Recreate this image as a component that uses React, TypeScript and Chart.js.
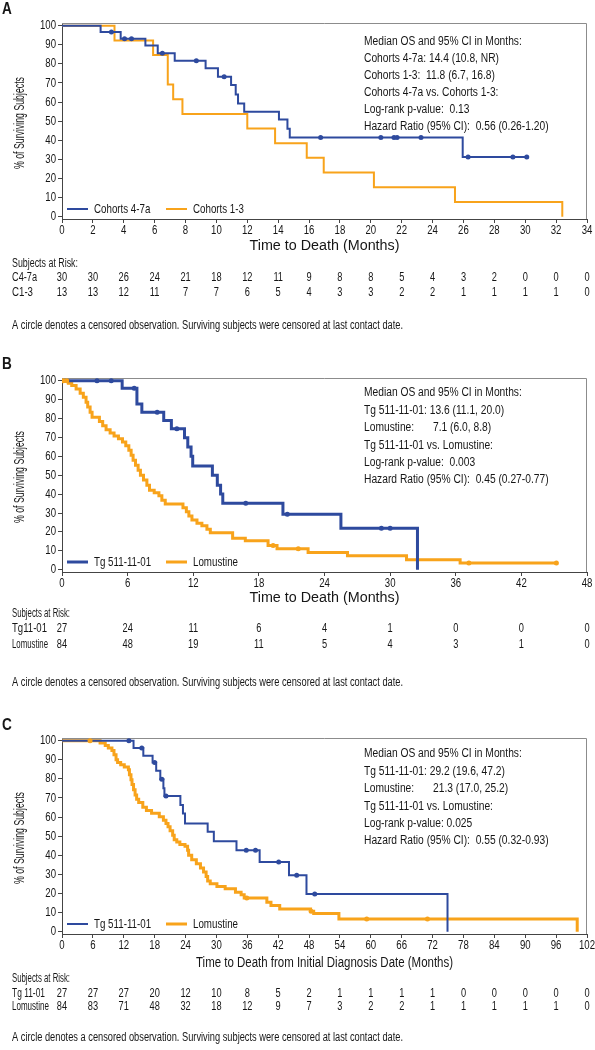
import React, { useEffect, useRef } from "react";
import { Chart, registerables } from "chart.js";

Chart.register(...registerables);

const FONT = "'Liberation Sans Narrow', 'Liberation Sans', Arial, sans-serif";
const BLUE = "#2e4a9e";
const ORANGE = "#f8a31b";
const INK = "#161616";

const Y_TICKS = [0, 10, 20, 30, 40, 50, 60, 70, 80, 90, 100];

// ---------------- Panel A data ----------------
const A_X_TICKS = [0, 2, 4, 6, 8, 10, 12, 14, 16, 18, 20, 22, 24, 26, 28, 30, 32, 34];
const A_C47_TIME = [0, 2.5, 3.8, 5.4, 6.2, 7.3, 9.3, 10.1, 10.95, 11.25, 11.4, 11.8, 14.05, 14.6, 14.75, 25.95, 30.1];
const A_C47_SURV = [100, 96.7, 93.1, 89.6, 85.6, 81.7, 77.7, 73.3, 68.9, 64.0, 59.3, 54.9, 50.9, 46.1, 41.4, 31.2, 31.2];
const A_C47_CENSOR = [3.2, 4.05, 4.5, 6.5, 8.7, 10.5, 16.75, 20.65, 21.5, 21.7, 23.25, 26.3, 29.2, 30.1];
const A_C13_TIME = [0, 3.4, 5.9, 6.85, 7.2, 7.8, 12.0, 13.8, 15.85, 16.95, 20.2, 25.45, 32.4];
const A_C13_SURV = [100, 92.3, 84.6, 69.2, 61.5, 53.8, 46.2, 38.5, 30.8, 23.1, 15.4, 7.7, 0];
const A_C13_CENSOR: number[] = [];
const A_RISK_C47 = [30, 30, 26, 24, 21, 18, 12, 11, 9, 8, 8, 5, 4, 3, 2, 0, 0, 0];
const A_RISK_C13 = [13, 13, 12, 11, 7, 7, 6, 5, 4, 3, 3, 2, 2, 1, 1, 1, 1, 0];
const A_STATS: [string, string][] = [
  ["Median OS and 95% CI in Months:", ""],
  ["Cohorts 4-7a: 14.4 (10.8, NR)", ""],
  ["Cohorts 1-3:  11.8 (6.7, 16.8)", ""],
  ["Cohorts 4-7a vs. Cohorts 1-3:", ""],
  ["Log-rank p-value:  0.13", ""],
  ["Hazard Ratio (95% CI):  0.56 (0.26-1.20)", ""],
];

// ---------------- Panel B data ----------------
const B_X_TICKS = [0, 6, 12, 18, 24, 30, 36, 42, 48];
const B_TG_TIME = [0, 5.5, 6.85, 7.3, 9.3, 10.0, 11.2, 11.5, 11.8, 11.95, 13.75, 14.2, 14.5, 14.7, 20.2, 25.5, 32.5];
const B_TG_SURV = [100, 96.0, 87.7, 83.3, 78.9, 74.6, 69.8, 64.9, 60.0, 54.9, 50.0, 44.7, 40.0, 35.1, 29.3, 22.0, 0];
const B_TG_CENSOR = [3.2, 4.5, 6.6, 8.7, 10.5, 16.8, 20.6, 29.2, 30.0];
const B_LOM_TIME = [0, 0.58, 0.89, 1.29, 1.66, 1.95, 2.2, 2.35, 2.57, 2.75, 3.42, 3.72, 4.03, 4.4, 4.76, 5.16, 5.53, 5.83, 6.11, 6.32, 6.5, 6.72, 6.96, 7.17, 7.45, 7.76, 8.0, 8.43, 8.86, 9.13, 9.44, 11.06, 11.37, 11.6, 11.88, 12.34, 12.79, 13.25, 13.56, 15.6, 16.76, 18.84, 19.66, 22.5, 26.1, 31.5, 36.4, 45.2];
const B_LOM_SURV = [100, 98.6, 97.4, 95.6, 93.3, 91.2, 88.6, 86.0, 83.3, 80.7, 78.4, 76.1, 74.0, 72.3, 70.7, 69.3, 67.5, 65.6, 63.2, 60.5, 57.9, 55.3, 52.6, 50.0, 47.4, 44.7, 42.1, 40.7, 39.1, 36.8, 34.7, 32.8, 30.7, 28.4, 26.3, 24.6, 23.2, 21.4, 19.6, 16.7, 15.3, 12.8, 11.1, 9.1, 7.4, 5.3, 3.5, 3.5];
const B_LOM_CENSOR = [0.12, 0.43, 19.3, 21.6, 37.2, 45.2];
const B_RISK_TG = [27, 24, 11, 6, 4, 1, 0, 0, 0];
const B_RISK_LOM = [84, 48, 19, 11, 5, 4, 3, 1, 0];
const B_STATS: [string, string][] = [
  ["Median OS and 95% CI in Months:", ""],
  ["Tg 511-11-01: 13.6 (11.1, 20.0)", ""],
  ["Lomustine:", "7.1 (6.0, 8.8)"],
  ["Tg 511-11-01 vs. Lomustine:", ""],
  ["Log-rank p-value:  0.003", ""],
  ["Hazard Ratio (95% CI):  0.45 (0.27-0.77)", ""],
];

// ---------------- Panel C data ----------------
const C_X_TICKS = [0, 6, 12, 18, 24, 30, 36, 42, 48, 54, 60, 66, 72, 78, 84, 90, 96, 102];
const C_TG_TIME = [0, 13.9, 15.8, 17.6, 18.3, 19.1, 19.7, 19.9, 23.0, 23.5, 23.9, 28.3, 29.5, 33.9, 38.4, 44.1, 47.5, 74.9];
const C_TG_SURV = [100, 96.1, 92.1, 88.6, 84.2, 79.8, 75.1, 71.1, 66.3, 61.9, 56.7, 52.3, 47.4, 42.6, 36.5, 29.5, 19.8, 0];
const C_TG_CENSOR = [13.0, 15.5, 18.0, 19.4, 20.2, 35.8, 37.6, 42.1, 45.6, 49.1];
const C_LOM_TIME = [0, 7.4, 8.4, 9.0, 9.7, 10.1, 10.5, 10.8, 11.4, 12.1, 12.9, 13.1, 13.4, 13.6, 13.9, 14.2, 14.5, 14.9, 15.7, 16.4, 17.4, 18.9, 19.7, 20.2, 20.6, 21.0, 21.5, 21.8, 22.3, 22.9, 23.9, 24.4, 24.6, 25.2, 26.1, 26.9, 27.5, 28.0, 28.3, 28.8, 30.1, 31.7, 33.7, 34.8, 35.4, 39.8, 40.6, 42.3, 48.3, 48.9, 53.8, 100.1];
const C_LOM_SURV = [100, 98.8, 97.5, 96.1, 94.9, 92.6, 90.0, 88.6, 87.4, 86.2, 84.8, 82.2, 79.6, 77.0, 74.3, 71.6, 69.4, 67.6, 65.1, 63.4, 62.0, 60.2, 58.4, 56.7, 54.9, 52.8, 50.5, 48.2, 47.0, 45.7, 44.7, 42.6, 40.0, 37.7, 35.6, 33.3, 31.2, 28.9, 26.5, 25.1, 23.7, 22.5, 20.7, 19.3, 17.7, 15.4, 13.7, 11.9, 10.7, 9.5, 6.7, 0];
const C_LOM_CENSOR = [5.45, 35.9, 48.4, 59.2, 71.0];
const C_RISK_TG = [27, 27, 27, 20, 12, 10, 8, 5, 2, 1, 1, 1, 1, 0, 0, 0, 0, 0];
const C_RISK_LOM = [84, 83, 71, 48, 32, 18, 12, 9, 7, 3, 2, 2, 1, 1, 1, 1, 1, 0];
const C_STATS: [string, string][] = [
  ["Median OS and 95% CI in Months:", ""],
  ["Tg 511-11-01: 29.2 (19.6, 47.2)", ""],
  ["Lomustine:", "21.3 (17.0, 25.2)"],
  ["Tg 511-11-01 vs. Lomustine:", ""],
  ["Log-rank p-value: 0.025", ""],
  ["Hazard Ratio (95% CI):  0.55 (0.32-0.93)", ""],
];

const FOOTNOTE = "A circle denotes a censored observation. Surviving subjects were censored at last contact date.";
const Y_TITLE = "% of Surviving Subjects";

interface Series {
  label: string;
  riskLabel: string;
  riskLabelW: number;
  color: string;
  width: number;
  time: number[];
  surv: number[];
  censor: number[];
  risk: number[];
}

interface PanelCfg {
  letter: string;
  canvasH: number;
  top: number;
  bottom: number;
  xMax: number;
  xStep: number;
  ticks: number[];
  xTitle: string;
  xTitleW: number;
  titleY: number;
  letterY: number;
  statsY: number;
  statsGap: number;
  stats: [string, string][];
  riskY: number[];
  subjW: number;
  footY: number;
  series: Series[];
}

const PANEL_A: PanelCfg = {
  letter: "A", canvasH: 340, top: 23, bottom: 219, xMax: 34, xStep: 2, ticks: A_X_TICKS,
  xTitle: "Time to Death (Months)", xTitleW: 150, titleY: 246, letterY: 10, statsY: 42, statsGap: 17,
  stats: A_STATS, riskY: [264, 278, 293], subjW: 66, footY: 326,
  series: [
    { label: "Cohorts 4-7a", riskLabel: "C4-7a", riskLabelW: 25, color: BLUE, width: 2, time: A_C47_TIME, surv: A_C47_SURV, censor: A_C47_CENSOR, risk: A_RISK_C47 },
    { label: "Cohorts 1-3", riskLabel: "C1-3", riskLabelW: 21, color: ORANGE, width: 2, time: A_C13_TIME, surv: A_C13_SURV, censor: A_C13_CENSOR, risk: A_RISK_C13 },
  ],
};

const PANEL_B: PanelCfg = {
  letter: "B", canvasH: 360, top: 38, bottom: 232, xMax: 48, xStep: 6, ticks: B_X_TICKS,
  xTitle: "Time to Death (Months)", xTitleW: 150, titleY: 258, letterY: 25, statsY: 53, statsGap: 17.4,
  stats: B_STATS, riskY: [274, 289, 305], subjW: 58, footY: 343,
  series: [
    { label: "Tg 511-11-01", riskLabel: "Tg11-01", riskLabelW: 35, color: BLUE, width: 3, time: B_TG_TIME, surv: B_TG_SURV, censor: B_TG_CENSOR, risk: B_RISK_TG },
    { label: "Lomustine", riskLabel: "Lomustine", riskLabelW: 36, color: ORANGE, width: 3, time: B_LOM_TIME, surv: B_LOM_SURV, censor: B_LOM_CENSOR, risk: B_RISK_LOM },
  ],
};

const PANEL_C: PanelCfg = {
  letter: "C", canvasH: 350, top: 38, bottom: 234, xMax: 102, xStep: 6, ticks: C_X_TICKS,
  xTitle: "Time to Death from Initial Diagnosis Date (Months)", xTitleW: 257, titleY: 263, letterY: 26, statsY: 54, statsGap: 17.4,
  stats: C_STATS, riskY: [279, 294, 307], subjW: 58, footY: 338,
  series: [
    { label: "Tg 511-11-01", riskLabel: "Tg 11-01", riskLabelW: 33, color: BLUE, width: 2, time: C_TG_TIME, surv: C_TG_SURV, censor: C_TG_CENSOR, risk: C_RISK_TG },
    { label: "Lomustine", riskLabel: "Lomustine", riskLabelW: 37, color: ORANGE, width: 3, time: C_LOM_TIME, surv: C_LOM_SURV, censor: C_LOM_CENSOR, risk: C_RISK_LOM },
  ],
};

function survAt(times: number[], surv: number[], t: number): number {
  let s = surv[0];
  for (let i = 0; i < times.length; i++) {
    if (times[i] <= t) s = surv[i];
    else break;
  }
  return s;
}

interface TxtOpts {
  align?: CanvasTextAlign;
  bold?: boolean;
  sx?: number;
  width?: number;
  rotate?: number;
}

function txt(ctx: CanvasRenderingContext2D, s: string, x: number, y: number, size: number, o: TxtOpts = {}) {
  ctx.save();
  ctx.font = `${o.bold ? "bold " : ""}${size}px ${FONT}`;
  ctx.textAlign = o.align || "left";
  ctx.textBaseline = "middle";
  ctx.fillStyle = INK;
  let sx = o.sx ?? 1;
  if (o.width) {
    const w = ctx.measureText(s).width;
    if (w > 0) sx = o.width / w;
  }
  ctx.translate(x, y);
  if (o.rotate) ctx.rotate(o.rotate);
  ctx.scale(sx, 1);
  ctx.fillText(s, 0, 0);
  ctx.restore();
}

const TEXT_SX = 0.82;
const NUM_SX = 0.74;

function decoPlugin(cfg: PanelCfg) {
  return {
    id: "panelDeco" + cfg.letter,
    beforeDatasetsDraw(chart: any) {
      const { ctx, chartArea: ca } = chart;
      ctx.save();
      ctx.strokeStyle = "#8c8c8c";
      ctx.lineWidth = 1;
      ctx.beginPath();
      ctx.moveTo(ca.left, ca.top + 0.5);
      ctx.lineTo(ca.right - 0.5, ca.top + 0.5);
      ctx.lineTo(ca.right - 0.5, ca.bottom);
      ctx.stroke();
      ctx.restore();
    },
    afterDraw(chart: any) {
      const { ctx, chartArea: ca, scales } = chart;
      const xs = scales.x;
      const ys = scales.y;
      // tick labels (from the library's ticks)
      xs.ticks.forEach((t: any) => {
        txt(ctx, String(t.value), xs.getPixelForValue(t.value), ca.bottom + 11, 13, { align: "center", sx: NUM_SX });
      });
      ys.ticks.forEach((t: any) => {
        txt(ctx, String(t.value), ca.left - 6, ys.getPixelForValue(t.value), 13, { align: "right", sx: NUM_SX });
      });
      // axis titles
      txt(ctx, Y_TITLE, 20, (ca.top + ca.bottom) / 2 + 2, 14, { align: "center", width: 92, rotate: -Math.PI / 2 });
      txt(ctx, cfg.xTitle, (ca.left + ca.right) / 2, cfg.titleY, 14, { align: "center", width: cfg.xTitleW });
      // panel letter
      txt(ctx, cfg.letter, 2, cfg.letterY, 16, { bold: true, sx: 0.85 });
      // legend inside plot
      const ly = ca.bottom - 10;
      cfg.series.forEach((s, i) => {
        const lx = ca.left + 5 + i * 99;
        ctx.save();
        ctx.strokeStyle = s.color;
        ctx.lineWidth = s.width;
        ctx.beginPath();
        ctx.moveTo(lx, ly);
        ctx.lineTo(lx + 21, ly);
        ctx.stroke();
        ctx.restore();
        txt(ctx, s.label, lx + 27, ly, 13, { sx: 0.75 });
      });
      // stats block
      cfg.stats.forEach(([label, value], i) => {
        const y = cfg.statsY + i * cfg.statsGap;
        txt(ctx, label, 364, y, 12.5, { sx: TEXT_SX });
        if (value) txt(ctx, value, 433, y, 12.5, { sx: TEXT_SX });
      });
      // risk table
      txt(ctx, "Subjects at Risk:", 12, cfg.riskY[0], 12.5, { width: cfg.subjW });
      cfg.series.forEach((s, r) => {
        const y = cfg.riskY[r + 1];
        txt(ctx, s.riskLabel, 12, y, 12.5, { width: s.riskLabelW });
        cfg.ticks.forEach((t, i) => {
          txt(ctx, String(s.risk[i]), xs.getPixelForValue(t), y, 12.5, { align: "center", sx: NUM_SX });
        });
      });
      // footnote
      txt(ctx, FOOTNOTE, 12, cfg.footY, 12.5, { width: 391 });
    },
  };
}

function buildConfig(cfg: PanelCfg): any {
  const datasets: any[] = [];
  cfg.series.forEach((s) => {
    datasets.push({
      label: s.label + " censored",
      data: s.censor.map((t) => ({ x: t, y: survAt(s.time, s.surv, t) })),
      showLine: false,
      pointRadius: 2.5,
      pointBackgroundColor: s.color,
      pointBorderColor: s.color,
      pointBorderWidth: 0,
      borderColor: s.color,
    });
  });
  cfg.series.forEach((s) => {
    datasets.push({
      label: s.label,
      data: s.time.map((t, i) => ({ x: t, y: s.surv[i] })),
      stepped: "before",
      borderColor: s.color,
      borderWidth: s.width,
      pointRadius: 0,
      fill: false,
      tension: 0,
    });
  });
  const axisColor = "#444";
  return {
    type: "line",
    data: { datasets },
    options: {
      responsive: false,
      maintainAspectRatio: false,
      animation: false,
      devicePixelRatio: 1,
      events: [],
      layout: { padding: { top: cfg.top, left: 0, right: 8, bottom: cfg.canvasH - cfg.bottom - 20 } },
      plugins: { legend: { display: false }, tooltip: { enabled: false }, title: { display: false } },
      scales: {
        x: {
          type: "linear",
          min: 0,
          max: cfg.xMax,
          afterFit: (s: any) => {
            s.height = 20;
          },
          afterBuildTicks: (s: any) => {
            s.ticks = cfg.ticks.map((v) => ({ value: v }));
          },
          ticks: { display: false, stepSize: cfg.xStep, autoSkip: false, maxRotation: 0 },
          grid: { display: true, drawOnChartArea: false, drawTicks: true, tickLength: 4, color: axisColor },
          border: { display: true, color: axisColor, width: 1 },
        },
        y: {
          min: -1.2,
          max: 101.4,
          afterFit: (s: any) => {
            s.width = 62;
          },
          afterBuildTicks: (s: any) => {
            s.ticks = Y_TICKS.map((v) => ({ value: v }));
          },
          ticks: { display: false, stepSize: 10 },
          grid: { display: true, drawOnChartArea: false, drawTicks: true, tickLength: 4, color: axisColor },
          border: { display: true, color: axisColor, width: 1 },
        },
      },
    },
    plugins: [decoPlugin(cfg)],
  };
}

function Panel({ cfg, top }: { cfg: PanelCfg; top: number }) {
  const ref = useRef<HTMLCanvasElement>(null);
  useEffect(() => {
    if (!ref.current) return;
    const chart = new Chart(ref.current, buildConfig(cfg));
    return () => chart.destroy();
  }, [cfg]);
  return (
    <canvas
      ref={ref}
      width={595}
      height={cfg.canvasH}
      style={{ position: "absolute", left: 0, top, width: 595, height: cfg.canvasH, display: "block" }}
    />
  );
}

export default function App() {
  return (
    <div style={{ position: "absolute", left: 0, top: 0, width: 595, height: 1050, background: "#fff", overflow: "hidden" }}>
      <Panel cfg={PANEL_A} top={0} />
      <Panel cfg={PANEL_B} top={340} />
      <Panel cfg={PANEL_C} top={700} />
    </div>
  );
}
